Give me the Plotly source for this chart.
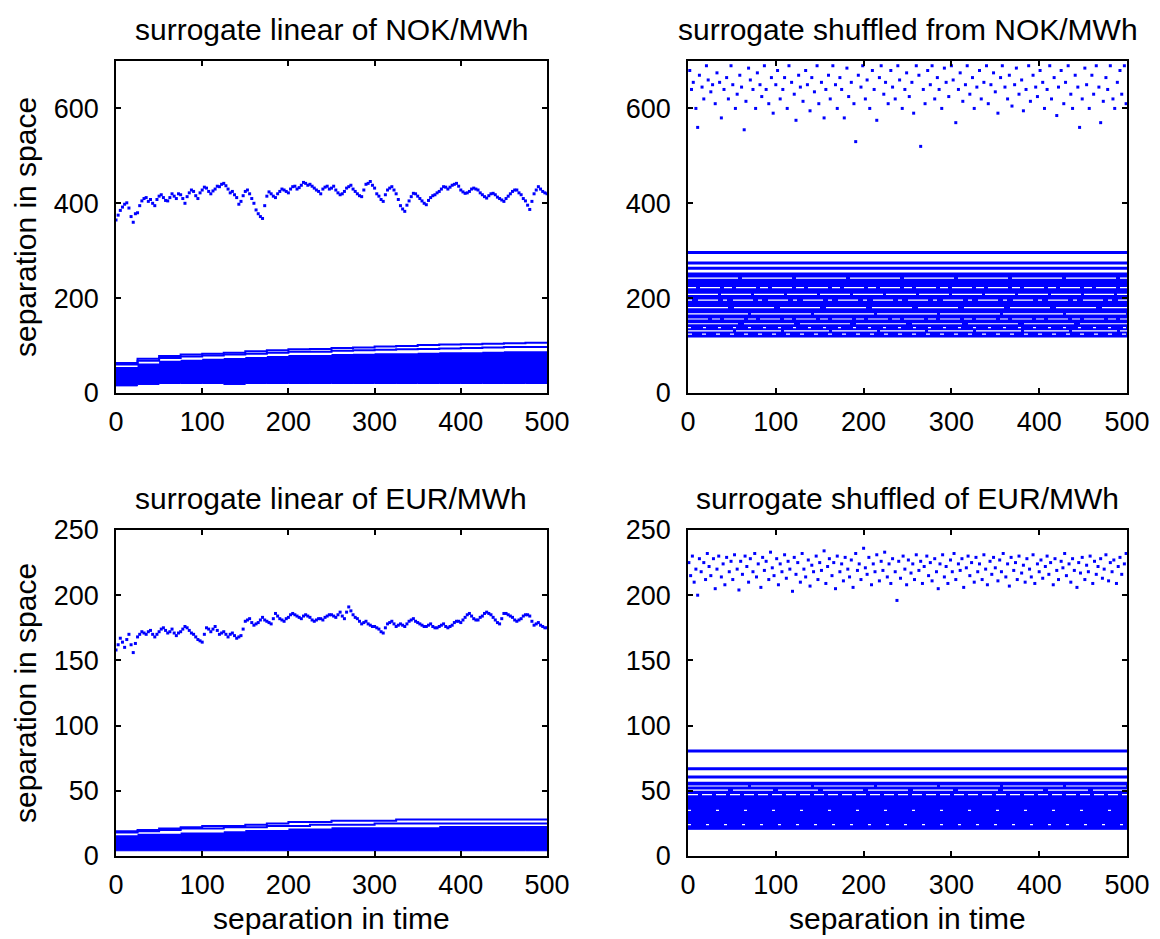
import plotly.graph_objects as go

BLUE = "#0000FF"

# ---------------- data ----------------
# linear NOK: upper cloud, x step 5 plus in-between points
TL_curve_x = list(range(0, 501, 5))
TL_curve_y = [365, 385, 398, 390, 360, 380, 405, 412, 408, 395, 415, 412, 405, 420, 410, 418, 400, 422, 425, 410,
              428, 432, 420, 430, 435, 442, 430, 425, 412, 404, 425, 420, 400, 378, 368, 415, 420, 412, 425, 428,
              422, 435, 430, 438, 442, 440, 432, 425, 430, 436, 432, 428, 418, 425, 435, 430, 420, 414, 440, 446,
              432, 415, 404, 428, 435, 420, 395, 383, 405, 421, 415, 405, 397, 412, 418, 425, 435, 430, 438, 442,
              428, 421, 425, 432, 428, 418, 411, 420, 418, 410, 404, 415, 425, 428, 418, 405, 387, 420, 435, 425, 420]
TL_curve_x2 = [2.5 + 5 * i for i in range(100)]
TL_curve_y2 = [375, 392, 401, 372, 378, 395, 410, 404, 400, 408,
               418, 406, 412, 415, 420, 410, 414, 428, 416, 422,
               434, 425, 426, 436, 440, 437, 422, 418, 398, 416,
               428, 410, 386, 372, 395, 424, 415, 420, 430, 425,
               430, 436, 433, 444, 438, 436, 428, 420, 434, 430,
               436, 422, 420, 432, 438, 425, 416, 428, 442, 438,
               420, 408, 418, 432, 428, 408, 388, 396, 414, 420,
               410, 400, 406, 416, 422, 430, 434, 434, 440, 436,
               424, 422, 430, 430, 422, 414, 416, 421, 413, 407,
               410, 420, 428, 422, 410, 396, 404, 428, 430, 422]
band_x = list(range(0, 501, 25))
TL_band_lo = [15, 18, 20, 20, 20, 18, 20, 20, 20, 20, 20, 20, 20, 20, 20, 20, 20, 20, 20, 20, 20]
TL_band_hi = [55, 62, 68, 70, 72, 74, 76, 78, 80, 80, 82, 83, 84, 84, 85, 86, 86, 87, 88, 88, 88]
TL_line2 = [60, 68, 74, 77, 79, 81, 83, 85, 87, 87, 89, 90, 91, 92, 93, 94, 95, 96, 97, 97, 98]
TL_line1 = [63, 72, 78, 81, 83, 85, 88, 90, 92, 93, 95, 96, 98, 99, 101, 102, 103, 104, 105, 106, 107]

# shuffled NOK
TR_cloud_x = [2, 4, 6, 9, 11, 13, 16, 18, 21, 23, 26, 28, 31, 33, 36, 38, 41, 44, 46, 49, 51, 54, 56, 59, 61, 64, 66, 69,
              71, 74, 77, 79, 82, 84, 87, 89, 92, 95, 97, 100, 102, 105, 108, 110, 113, 115, 118, 121, 123, 126, 128,
              131, 134, 136, 139, 141, 144, 147, 149, 152, 155, 157, 160, 162, 165, 168, 170, 173, 175, 178, 181, 183,
              186, 189, 191, 194, 197, 199, 202, 204, 207, 210, 212, 215, 218, 220, 223, 225, 228, 231, 233, 236, 239,
              241, 244, 247, 249, 252, 255, 257, 260, 263, 265, 268, 270, 273, 276, 278, 281, 284, 286, 289, 292, 294,
              297, 300, 302, 305, 308, 310, 313, 316, 318, 321, 324, 326, 329, 332, 334, 337, 340, 342, 345, 348, 350,
              353, 356, 358, 361, 364, 366, 369, 372, 374, 377, 380, 382, 385, 388, 390, 393, 396, 398, 401, 404, 406,
              409, 412, 414, 417, 420, 422, 425, 428, 430, 433, 436, 438, 441, 444, 446, 449, 452, 454, 457, 460, 462,
              465, 468, 470, 473, 476, 478, 481, 484, 486, 489, 492, 494, 497, 499]
TR_cloud_y = [680, 640, 655, 600, 560, 670, 645, 620, 690, 660, 635, 650, 610, 675, 655, 580, 640, 665, 620, 690, 650,
              600, 630, 670, 645, 555, 615, 685, 660, 640, 600, 675, 650, 625, 690, 640, 610, 665, 590, 650, 680, 620,
              640, 665, 600, 690, 655, 630, 575, 670, 645, 615, 680, 650, 595, 665, 635, 690, 610, 655, 580, 640, 670,
              620, 690, 650, 600, 665, 640, 580, 685, 625, 655, 610, 530, 670, 645, 690, 620, 660, 600, 680, 640, 575,
              665, 690, 630, 655, 610, 680, 645, 620, 690, 660, 600, 640, 675, 625, 655, 590, 690, 670, 520, 640, 610,
              680, 650, 690, 620, 665, 640, 600, 685, 655, 625, 690, 660, 570, 640, 675, 615, 650, 690, 630, 665, 600,
              645, 680, 620, 655, 690, 610, 650, 675, 635, 590, 665, 690, 645, 620, 670, 605, 650, 685, 630, 660, 595,
              640, 690, 615, 670, 645, 625, 680, 655, 600, 640, 690, 620, 665, 585, 645, 680, 610, 655, 690, 630, 600,
              670, 645, 560, 620, 685, 650, 600, 670, 630, 690, 645, 570, 615, 665, 640, 690, 620, 600, 655, 680, 630,
              690, 610]
TR_fill = [118, 254]
TR_blue_rows = [296, 274, 263]
TR_white_rows = [242, 222, 208, 196, 180, 167, 156, 146, 138, 131, 124]

# linear EUR
BL_curve_x = list(range(0, 501, 5))
BL_curve_y = [158, 167, 160, 170, 156, 168, 172, 170, 173, 168, 172, 175, 171, 174, 169, 172, 176, 173, 170, 166,
              164, 175, 172, 176, 170, 172, 168, 171, 167, 169, 180, 182, 177, 179, 183, 180, 178, 186, 182, 180,
              183, 186, 184, 182, 185, 183, 180, 182, 181, 184, 185, 183, 187, 182, 191, 185, 182, 178, 180, 177,
              176, 174, 171, 178, 180, 176, 178, 176, 180, 182, 179, 177, 176, 178, 175, 176, 178, 175, 177, 180,
              179, 183, 186, 182, 181, 184, 187, 185, 181, 178, 186, 185, 183, 180, 182, 185, 184, 177, 179, 176, 175]
BL_curve_x2 = [2.5 + 5 * i for i in range(100)]
BL_curve_y2 = [162, 164, 166, 162, 163, 170, 171, 172, 170, 170,
               174, 173, 172, 171, 171, 174, 175, 171, 168, 165,
               170, 174, 174, 173, 171, 170, 170, 169, 168, 174,
               181, 179, 178, 181, 181, 179, 182, 184, 181, 182,
               185, 185, 183, 184, 184, 181, 181, 182, 183, 185,
               184, 185, 184, 187, 188, 183, 180, 179, 178, 176,
               175, 172, 175, 179, 178, 177, 177, 178, 181, 180,
               178, 176, 177, 176, 175, 177, 176, 176, 179, 180,
               181, 185, 184, 181, 183, 186, 186, 183, 179, 182,
               186, 184, 181, 181, 184, 185, 180, 178, 177, 175]
BL_band_lo = [4] * 21
BL_band_hi = [16, 17, 17, 18, 18, 19, 20, 20, 21, 21, 22, 22, 22, 22, 22, 23, 23, 23, 23, 23, 23]
BL_line2 = [18, 19, 20, 21, 21, 22, 22, 23, 23, 24, 24, 24, 25, 25, 25, 25, 25, 25, 25, 25, 25]
BL_line1 = [19, 20, 21, 22, 23, 23, 24, 25, 26, 26, 27, 27, 27, 28, 28, 28, 28, 28, 28, 28, 28]

# shuffled EUR
BR_cloud_x = [1, 3, 5, 7, 9, 11, 13, 15, 18, 20, 22, 24, 26, 29, 31, 33, 35, 38, 40, 42, 44, 47, 49, 51, 53, 56, 58, 60,
              62, 65, 67, 69, 71, 74, 76, 78, 80, 83, 85, 87, 89, 92, 94, 96, 98, 101, 103, 105, 107, 110, 112, 114,
              116, 119, 121, 123, 125, 128, 130, 132, 134, 137, 139, 141, 143, 146, 148, 150, 152, 155, 157, 159, 161,
              164, 166, 168, 170, 173, 175, 177, 179, 182, 184, 186, 188, 191, 193, 195, 197, 200, 202, 204, 206, 209,
              211, 213, 215, 218, 220, 222, 224, 227, 229, 231, 233, 236, 238, 240, 242, 245, 247, 249, 251, 254, 256,
              258, 260, 263, 265, 267, 269, 272, 274, 276, 278, 281, 283, 285, 287, 290, 292, 294, 296, 299, 301, 303,
              305, 308, 310, 312, 314, 317, 319, 321, 323, 326, 328, 330, 332, 335, 337, 339, 341, 344, 346, 348, 350,
              353, 355, 357, 359, 362, 364, 366, 368, 371, 373, 375, 377, 380, 382, 384, 386, 389, 391, 393, 395, 398,
              400, 402, 404, 407, 409, 411, 413, 416, 418, 420, 422, 425, 427, 429, 431, 434, 436, 438, 440, 443, 445,
              447, 449, 452, 454, 456, 458, 461, 463, 465, 467, 470, 472, 474, 476, 479, 481, 483, 485, 488, 490, 492,
              494, 497, 499]
BR_cloud_y = [225, 215, 230, 210, 220, 200, 228, 218, 225, 212, 232, 222, 215, 228, 205, 220, 230, 214, 224, 208, 229,
              218, 226, 212, 231, 220, 204, 226, 216, 230, 222, 210, 228, 218, 232, 214, 224, 206, 229, 219, 226, 212,
              233, 221, 215, 228, 208, 224, 218, 231, 213, 226, 220, 203, 229, 216, 225, 210, 232, 220, 214, 227, 207,
              223, 218, 230, 212, 225, 219, 234, 209, 222, 228, 215, 225, 205, 230, 218, 224, 211, 229, 220, 214, 227,
              206, 232, 219, 224, 212, 236, 221, 216, 229, 208, 224, 218, 231, 211, 226, 219, 233, 214, 224, 209, 228,
              218, 196, 226, 213, 230, 220, 208, 227, 217, 224, 212, 231, 219, 226, 209, 222, 230, 215, 225, 211, 228,
              218, 205, 224, 231, 214, 222, 209, 227, 218, 232, 212, 224, 219, 228, 206, 221, 230, 215, 225, 210, 229,
              218, 224, 212, 231, 220, 208, 226, 216, 229, 221, 211, 227, 218, 232, 214, 224, 207, 229, 219, 225, 212,
              230, 217, 223, 210, 228, 220, 214, 231, 209, 224, 218, 227, 213, 222, 230, 216, 225, 208, 228, 219, 212,
              226, 221, 232, 215, 224, 210, 228, 219, 206, 225, 217, 229, 212, 223, 218, 230, 209, 226, 216, 222, 228,
              213, 220, 231, 211, 225, 218, 227, 209, 222, 229, 216, 224, 232]
BR_fill = [20.5, 57]
BR_blue_rows = [80.5, 67, 60.5]
BR_white_rows = [53.7, 50.5, 47, 35, 24]

titles = ["surrogate linear of NOK/MWh", "surrogate shuffled from NOK/MWh",
          "surrogate linear of EUR/MWh", "surrogate shuffled of EUR/MWh"]
xlabel = "separation in time"
ylabel = "separation in space"
xticks = [0, 100, 200, 300, 400, 500]
yticks_top = [0, 200, 400, 600]
yticks_bot = [0, 50, 100, 150, 200, 250]

# ---------------- styles ----------------
TR_white_dash = ["50px,4px", "8px,4px,20px,4px", "30px,3px", "4px,6px,20px,5px", "40px,6px", "60px,3px",
                 "20px,4px,8px,4px", "50px,6px", "3px,12px", "45px,3px", "4px,10px"]
BR_white_dash = ["60px,3px", "40px,5px", "10px,4px", "3px,25px", "3px,15px"]

# ---------------- figure ----------------
W, H = 1160, 939
fig = go.Figure()

def px_x(p):
    return p / W

def px_y(p):
    return 1 - p / H

PL = {1: (116, 547, 61, 393), 2: (688, 1127, 61, 393), 3: (116, 547, 530, 856), 4: (688, 1127, 530, 856)}

def ax(n):
    return ("x" if n == 1 else f"x{n}", "y" if n == 1 else f"y{n}")

def add_band(n, xs, lo, hi, l2, l1):
    xa, ya = ax(n)
    fig.add_trace(go.Scatter(x=xs, y=hi, mode="lines", line=dict(color=BLUE, width=0, shape="hv"),
                             xaxis=xa, yaxis=ya, showlegend=False, hoverinfo="skip"))
    fig.add_trace(go.Scatter(x=xs, y=lo, mode="lines", line=dict(color=BLUE, width=1, shape="hv"),
                             fill="tonexty", fillcolor=BLUE, xaxis=xa, yaxis=ya, showlegend=False,
                             hoverinfo="skip"))
    for arr in (l2, l1):
        fig.add_trace(go.Scatter(x=xs, y=arr, mode="lines", line=dict(color=BLUE, width=2, shape="hv"),
                                 xaxis=xa, yaxis=ya, showlegend=False, hoverinfo="skip"))

def add_cloud(n, xs, ys):
    xa, ya = ax(n)
    fig.add_trace(go.Scatter(x=xs, y=ys, mode="markers",
                             marker=dict(color=BLUE, size=3, symbol="square", line=dict(width=0)),
                             xaxis=xa, yaxis=ya, showlegend=False, hoverinfo="skip"))

def add_rows(n, fill, blue_rows, white_rows, dashes):
    xa, ya = ax(n)
    fig.add_trace(go.Scatter(x=[0, 500], y=[fill[1], fill[1]], mode="lines", line=dict(color=BLUE, width=0),
                             xaxis=xa, yaxis=ya, showlegend=False, hoverinfo="skip"))
    fig.add_trace(go.Scatter(x=[0, 500], y=[fill[0], fill[0]], mode="lines", line=dict(color=BLUE, width=1),
                             fill="tonexty", fillcolor=BLUE, xaxis=xa, yaxis=ya, showlegend=False,
                             hoverinfo="skip"))
    for v in blue_rows:
        fig.add_trace(go.Scatter(x=[0, 500], y=[v, v], mode="lines", line=dict(color=BLUE, width=3),
                                 xaxis=xa, yaxis=ya, showlegend=False, hoverinfo="skip"))
    for v, d in zip(white_rows, dashes):
        fig.add_trace(go.Scatter(x=[0, 500], y=[v, v], mode="lines",
                                 line=dict(color="white", width=1.2, dash=d),
                                 xaxis=xa, yaxis=ya, showlegend=False, hoverinfo="skip"))

add_band(1, band_x, TL_band_lo, TL_band_hi, TL_line2, TL_line1)
add_cloud(1, TL_curve_x, TL_curve_y)
add_cloud(1, TL_curve_x2, TL_curve_y2)
add_rows(2, TR_fill, TR_blue_rows, TR_white_rows, TR_white_dash)
add_cloud(2, TR_cloud_x, TR_cloud_y)
add_band(3, band_x, BL_band_lo, BL_band_hi, BL_line2, BL_line1)
add_cloud(3, BL_curve_x, BL_curve_y)
add_cloud(3, BL_curve_x2, BL_curve_y2)
add_rows(4, BR_fill, BR_blue_rows, BR_white_rows, BR_white_dash)
add_cloud(4, BR_cloud_x, BR_cloud_y)

FONT = "Liberation Sans, Arial, sans-serif"
tickfont = dict(family=FONT, size=27, color="black")
lay = {}
for n in range(1, 5):
    l, r, t, b = PL[n]
    xk = "xaxis" if n == 1 else f"xaxis{n}"
    yk = "yaxis" if n == 1 else f"yaxis{n}"
    xa, ya = ax(n)
    common = dict(showline=True, linecolor="black", linewidth=1.5, mirror="ticks", ticks="inside",
                  ticklen=5, tickwidth=1.5, tickcolor="black", showgrid=False, zeroline=False,
                  tickfont=tickfont, fixedrange=True, automargin=False)
    lay[xk] = dict(domain=[px_x(l), px_x(r)], anchor=ya, range=[0, 500], tickvals=xticks,
                   ticklabelstandoff=4, **common)
    top = n in (1, 2)
    lay[yk] = dict(domain=[px_y(b), px_y(t)], anchor=xa, range=[0, 700] if top else [0, 250],
                   tickvals=yticks_top if top else yticks_bot, ticklabelstandoff=10, **common)

annotations = []
TFONT = dict(family=FONT, size=30, color="black")
LFONT = dict(family=FONT, size=30, color="black")
for n, t in zip(range(1, 5), titles):
    l, r, tp, b = PL[n]
    annotations.append(dict(text=t, x=px_x((l + r) / 2), y=px_y(tp - 31), xref="paper", yref="paper",
                            showarrow=False, xanchor="center", yanchor="middle", font=TFONT))
    if n in (3, 4):
        annotations.append(dict(text=xlabel, x=px_x((l + r) / 2), y=px_y(b + 62), xref="paper", yref="paper",
                                showarrow=False, xanchor="center", yanchor="middle", font=LFONT))
    if n in (1, 3):
        annotations.append(dict(text=ylabel, x=px_x(25), y=px_y((tp + b) / 2), xref="paper", yref="paper",
                                showarrow=False, xanchor="center", yanchor="middle", textangle=-90, font=LFONT))

fig.update_layout(width=W, height=H, margin=dict(l=0, r=0, t=0, b=0, pad=0), paper_bgcolor="white",
                  plot_bgcolor="white", annotations=annotations, **lay)

fig.write_html("out.html")
